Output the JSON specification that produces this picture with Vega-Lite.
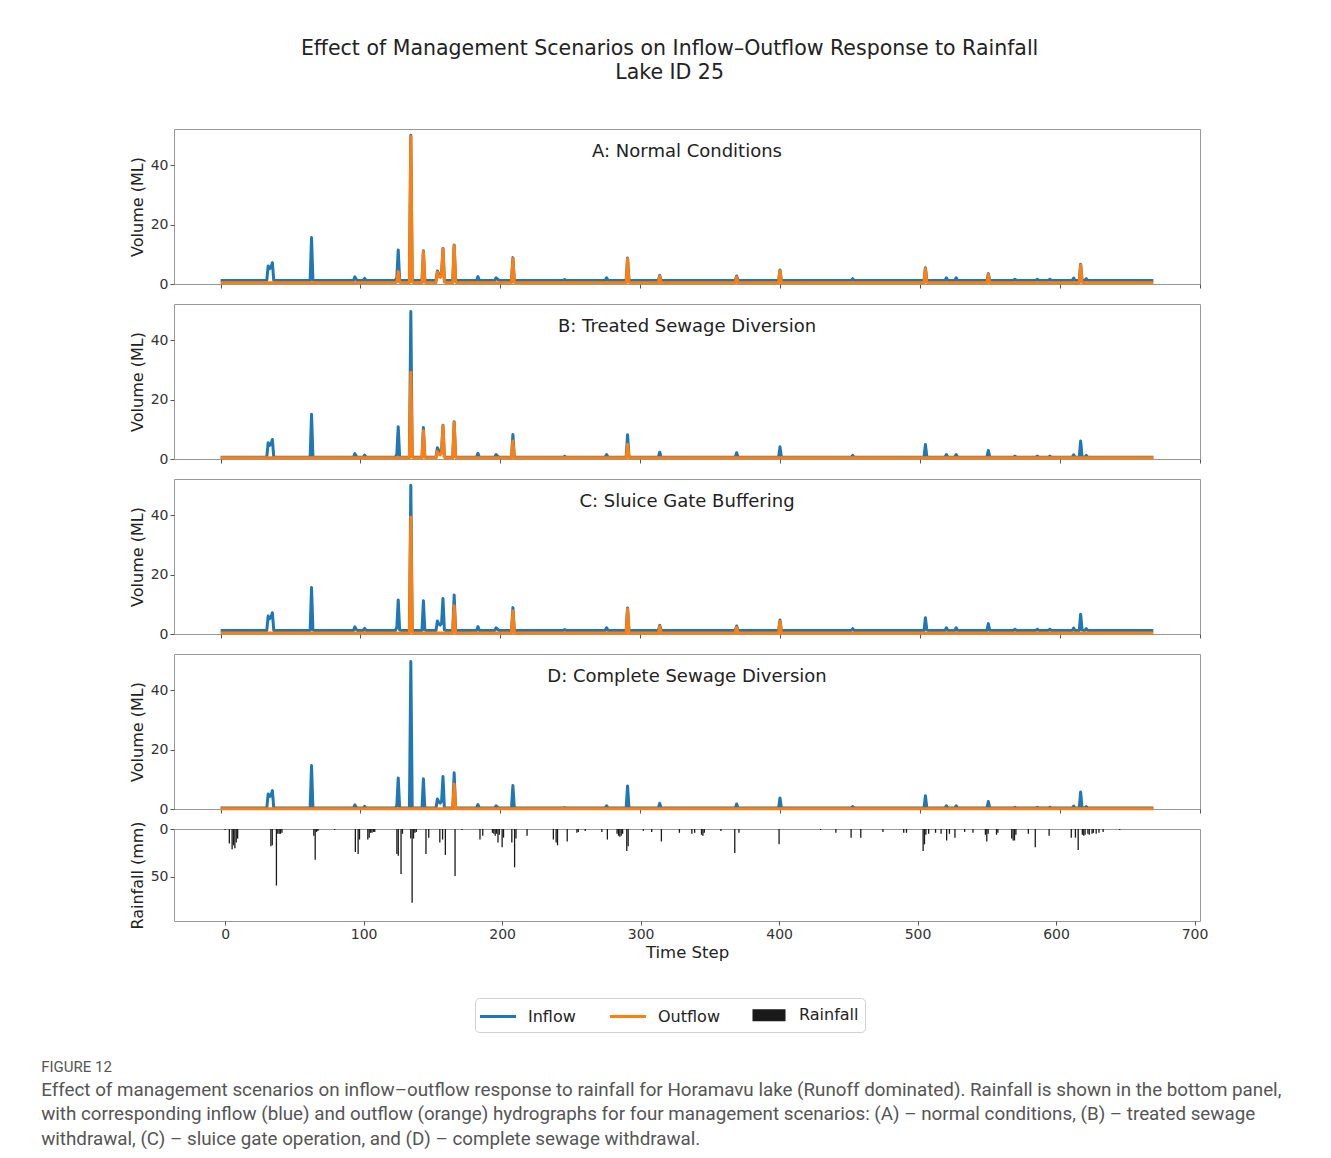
{
  "$schema": "https://vega.github.io/schema/vega-lite/v6.json",
  "background": "white",
  "padding": {"left": 40, "top": 38, "right": 5, "bottom": 5},
  "bounds": "flush",
  "title": {
    "text": ["Effect of Management Scenarios on Inflow–Outflow Response to Rainfall", "Lake ID 25"],
    "anchor": "middle", "font": "DejaVu Sans", "fontSize": 20.5, "fontWeight": "normal",
    "lineHeight": 24.5, "color": "#222", "offset": 45, "dx": 6
  },
  "spacing": 20,
  "resolve": {"scale": {"color": "independent"}, "legend": {"color": "independent"}},
  "datasets": {
    "hydro": [
      {"t":0,"Ai":1.2,"Ao":0.4,"Bi":0.6,"Bo":0.4,"Ci":1.2,"Co":0.3,"Di":0.3,"Do":0.05},
      {"t":33,"Ai":1.2,"Ao":0.4,"Bi":0.6,"Bo":0.4,"Ci":1.2,"Co":0.3,"Di":0.3,"Do":0.05},
      {"t":34,"Ai":6.1,"Ao":0.4,"Bi":5.5,"Bo":0.4,"Ci":6.1,"Co":0.3,"Di":5.1,"Do":0.05},
      {"t":35,"Ai":5.2,"Ao":0.4,"Bi":4.6,"Bo":0.4,"Ci":5.2,"Co":0.3,"Di":4.2,"Do":0.05},
      {"t":36,"Ai":5.6,"Ao":0.4,"Bi":5.0,"Bo":0.4,"Ci":5.6,"Co":0.3,"Di":4.6,"Do":0.05},
      {"t":37,"Ai":7.2,"Ao":0.4,"Bi":6.6,"Bo":0.4,"Ci":7.2,"Co":0.3,"Di":6.2,"Do":0.05},
      {"t":38,"Ai":1.2,"Ao":0.4,"Bi":0.6,"Bo":0.4,"Ci":1.2,"Co":0.3,"Di":0.3,"Do":0.05},
      {"t":64,"Ai":1.2,"Ao":0.4,"Bi":0.6,"Bo":0.4,"Ci":1.2,"Co":0.3,"Di":0.3,"Do":0.05},
      {"t":65,"Ai":15.7,"Ao":0.4,"Bi":15.1,"Bo":0.4,"Ci":15.7,"Co":0.3,"Di":14.7,"Do":0.05},
      {"t":66,"Ai":1.4,"Ao":0.4,"Bi":0.8,"Bo":0.4,"Ci":1.4,"Co":0.3,"Di":0.4,"Do":0.05},
      {"t":67,"Ai":1.2,"Ao":0.4,"Bi":0.6,"Bo":0.4,"Ci":1.2,"Co":0.3,"Di":0.3,"Do":0.05},
      {"t":95,"Ai":1.2,"Ao":0.4,"Bi":0.6,"Bo":0.4,"Ci":1.2,"Co":0.3,"Di":0.3,"Do":0.05},
      {"t":96,"Ai":2.4,"Ao":0.4,"Bi":1.8,"Bo":0.4,"Ci":2.4,"Co":0.3,"Di":1.4,"Do":0.05},
      {"t":97,"Ai":1.5,"Ao":0.4,"Bi":0.9,"Bo":0.4,"Ci":1.5,"Co":0.3,"Di":0.5,"Do":0.05},
      {"t":98,"Ai":1.2,"Ao":0.4,"Bi":0.6,"Bo":0.4,"Ci":1.2,"Co":0.3,"Di":0.3,"Do":0.05},
      {"t":102,"Ai":1.2,"Ao":0.4,"Bi":0.6,"Bo":0.4,"Ci":1.2,"Co":0.3,"Di":0.3,"Do":0.05},
      {"t":103,"Ai":1.9,"Ao":0.4,"Bi":1.3,"Bo":0.4,"Ci":1.9,"Co":0.3,"Di":0.9,"Do":0.05},
      {"t":104,"Ai":1.2,"Ao":0.4,"Bi":0.6,"Bo":0.4,"Ci":1.2,"Co":0.3,"Di":0.3,"Do":0.05},
      {"t":125,"Ai":1.2,"Ao":0.4,"Bi":0.6,"Bo":0.4,"Ci":1.2,"Co":0.3,"Di":0.3,"Do":0.05},
      {"t":126,"Ai":2.2,"Ao":0.8,"Bi":1.6,"Bo":0.4,"Ci":2.2,"Co":0.3,"Di":1.2,"Do":0.05},
      {"t":127,"Ai":11.5,"Ao":4.2,"Bi":10.9,"Bo":0.4,"Ci":11.5,"Co":0.3,"Di":10.5,"Do":0.05},
      {"t":128,"Ai":1.4,"Ao":0.6,"Bi":0.8,"Bo":0.4,"Ci":1.4,"Co":0.3,"Di":0.4,"Do":0.05},
      {"t":129,"Ai":1.2,"Ao":0.4,"Bi":0.6,"Bo":0.4,"Ci":1.2,"Co":0.3,"Di":0.3,"Do":0.05},
      {"t":135,"Ai":1.2,"Ao":0.4,"Bi":0.6,"Bo":0.4,"Ci":1.2,"Co":0.3,"Di":0.3,"Do":0.05},
      {"t":136,"Ai":50.2,"Ao":49.8,"Bi":49.8,"Bo":29.3,"Ci":50.2,"Co":39.4,"Di":49.8,"Do":0.05},
      {"t":137,"Ai":1.6,"Ao":0.8,"Bi":1.0,"Bo":0.7,"Ci":1.6,"Co":0.6,"Di":0.6,"Do":0.05},
      {"t":138,"Ai":1.2,"Ao":0.4,"Bi":0.6,"Bo":0.4,"Ci":1.2,"Co":0.3,"Di":0.3,"Do":0.05},
      {"t":144,"Ai":1.2,"Ao":0.4,"Bi":0.6,"Bo":0.4,"Ci":1.2,"Co":0.3,"Di":0.3,"Do":0.05},
      {"t":145,"Ai":11.2,"Ao":11.0,"Bi":10.6,"Bo":9.5,"Ci":11.2,"Co":0.3,"Di":10.2,"Do":0.05},
      {"t":146,"Ai":1.5,"Ao":0.7,"Bi":0.9,"Bo":0.6,"Ci":1.5,"Co":0.3,"Di":0.5,"Do":0.05},
      {"t":147,"Ai":1.2,"Ao":0.4,"Bi":0.6,"Bo":0.4,"Ci":1.2,"Co":0.3,"Di":0.3,"Do":0.05},
      {"t":154,"Ai":1.2,"Ao":0.4,"Bi":0.6,"Bo":0.4,"Ci":1.2,"Co":0.3,"Di":0.3,"Do":0.05},
      {"t":155,"Ai":4.4,"Ao":4.0,"Bi":3.8,"Bo":2.5,"Ci":4.4,"Co":0.3,"Di":3.4,"Do":0.05},
      {"t":156,"Ai":3.4,"Ao":2.6,"Bi":2.8,"Bo":1.6,"Ci":3.4,"Co":0.3,"Di":2.4,"Do":0.05},
      {"t":157,"Ai":3.0,"Ao":2.2,"Bi":2.4,"Bo":1.4,"Ci":3.0,"Co":0.3,"Di":2.0,"Do":0.05},
      {"t":158,"Ai":3.6,"Ao":3.0,"Bi":3.0,"Bo":2.0,"Ci":3.6,"Co":0.3,"Di":2.6,"Do":0.05},
      {"t":159,"Ai":12.0,"Ao":11.8,"Bi":11.4,"Bo":11.2,"Ci":12.0,"Co":0.3,"Di":11.0,"Do":0.05},
      {"t":160,"Ai":1.4,"Ao":0.7,"Bi":0.8,"Bo":0.6,"Ci":1.4,"Co":0.3,"Di":0.4,"Do":0.05},
      {"t":161,"Ai":1.2,"Ao":0.4,"Bi":0.6,"Bo":0.4,"Ci":1.2,"Co":0.3,"Di":0.3,"Do":0.05},
      {"t":166,"Ai":1.2,"Ao":0.4,"Bi":0.6,"Bo":0.4,"Ci":1.2,"Co":0.3,"Di":0.3,"Do":0.05},
      {"t":167,"Ai":13.2,"Ao":13.0,"Bi":12.6,"Bo":12.3,"Ci":13.2,"Co":9.5,"Di":12.2,"Do":8.4},
      {"t":168,"Ai":1.6,"Ao":0.8,"Bi":1.0,"Bo":0.7,"Ci":1.6,"Co":0.5,"Di":0.6,"Do":0.3},
      {"t":169,"Ai":1.2,"Ao":0.4,"Bi":0.6,"Bo":0.4,"Ci":1.2,"Co":0.3,"Di":0.3,"Do":0.05},
      {"t":183,"Ai":1.2,"Ao":0.4,"Bi":0.6,"Bo":0.4,"Ci":1.2,"Co":0.3,"Di":0.3,"Do":0.05},
      {"t":184,"Ai":2.5,"Ao":0.4,"Bi":1.9,"Bo":0.4,"Ci":2.5,"Co":0.3,"Di":1.5,"Do":0.05},
      {"t":185,"Ai":1.2,"Ao":0.4,"Bi":0.6,"Bo":0.4,"Ci":1.2,"Co":0.3,"Di":0.3,"Do":0.05},
      {"t":196,"Ai":1.2,"Ao":0.4,"Bi":0.6,"Bo":0.4,"Ci":1.2,"Co":0.3,"Di":0.3,"Do":0.05},
      {"t":197,"Ai":2.1,"Ao":0.4,"Bi":1.5,"Bo":0.4,"Ci":2.1,"Co":0.3,"Di":1.1,"Do":0.05},
      {"t":198,"Ai":1.6,"Ao":0.4,"Bi":1.0,"Bo":0.4,"Ci":1.6,"Co":0.3,"Di":0.6,"Do":0.05},
      {"t":199,"Ai":1.2,"Ao":0.4,"Bi":0.6,"Bo":0.4,"Ci":1.2,"Co":0.3,"Di":0.3,"Do":0.05},
      {"t":208,"Ai":1.2,"Ao":0.4,"Bi":0.6,"Bo":0.4,"Ci":1.2,"Co":0.3,"Di":0.3,"Do":0.05},
      {"t":209,"Ai":8.9,"Ao":8.6,"Bi":8.3,"Bo":6.1,"Ci":8.9,"Co":7.8,"Di":7.9,"Do":0.05},
      {"t":210,"Ai":1.4,"Ao":0.6,"Bi":0.8,"Bo":0.5,"Ci":1.4,"Co":0.5,"Di":0.4,"Do":0.05},
      {"t":211,"Ai":1.2,"Ao":0.4,"Bi":0.6,"Bo":0.4,"Ci":1.2,"Co":0.3,"Di":0.3,"Do":0.05},
      {"t":245,"Ai":1.2,"Ao":0.4,"Bi":0.6,"Bo":0.4,"Ci":1.2,"Co":0.3,"Di":0.3,"Do":0.05},
      {"t":246,"Ai":1.5,"Ao":0.4,"Bi":0.9,"Bo":0.4,"Ci":1.5,"Co":0.3,"Di":0.5,"Do":0.05},
      {"t":247,"Ai":1.2,"Ao":0.4,"Bi":0.6,"Bo":0.4,"Ci":1.2,"Co":0.3,"Di":0.3,"Do":0.05},
      {"t":275,"Ai":1.2,"Ao":0.4,"Bi":0.6,"Bo":0.4,"Ci":1.2,"Co":0.3,"Di":0.3,"Do":0.05},
      {"t":276,"Ai":2.1,"Ao":0.4,"Bi":1.5,"Bo":0.4,"Ci":2.1,"Co":0.3,"Di":1.1,"Do":0.05},
      {"t":277,"Ai":1.2,"Ao":0.4,"Bi":0.6,"Bo":0.4,"Ci":1.2,"Co":0.3,"Di":0.3,"Do":0.05},
      {"t":290,"Ai":1.2,"Ao":0.4,"Bi":0.6,"Bo":0.4,"Ci":1.2,"Co":0.3,"Di":0.3,"Do":0.05},
      {"t":291,"Ai":8.8,"Ao":8.5,"Bi":8.2,"Bo":5.0,"Ci":8.8,"Co":8.4,"Di":7.8,"Do":0.05},
      {"t":292,"Ai":1.4,"Ao":0.6,"Bi":0.8,"Bo":0.5,"Ci":1.4,"Co":0.5,"Di":0.4,"Do":0.05},
      {"t":293,"Ai":1.2,"Ao":0.4,"Bi":0.6,"Bo":0.4,"Ci":1.2,"Co":0.3,"Di":0.3,"Do":0.05},
      {"t":313,"Ai":1.2,"Ao":0.4,"Bi":0.6,"Bo":0.4,"Ci":1.2,"Co":0.3,"Di":0.3,"Do":0.05},
      {"t":314,"Ai":2.9,"Ao":2.6,"Bi":2.3,"Bo":0.4,"Ci":2.9,"Co":2.5,"Di":1.9,"Do":0.05},
      {"t":315,"Ai":1.2,"Ao":0.4,"Bi":0.6,"Bo":0.4,"Ci":1.2,"Co":0.3,"Di":0.3,"Do":0.05},
      {"t":368,"Ai":1.2,"Ao":0.4,"Bi":0.6,"Bo":0.4,"Ci":1.2,"Co":0.3,"Di":0.3,"Do":0.05},
      {"t":369,"Ai":2.7,"Ao":2.4,"Bi":2.1,"Bo":0.4,"Ci":2.7,"Co":2.3,"Di":1.7,"Do":0.05},
      {"t":370,"Ai":1.2,"Ao":0.4,"Bi":0.6,"Bo":0.4,"Ci":1.2,"Co":0.3,"Di":0.3,"Do":0.05},
      {"t":399,"Ai":1.2,"Ao":0.4,"Bi":0.6,"Bo":0.4,"Ci":1.2,"Co":0.3,"Di":0.3,"Do":0.05},
      {"t":400,"Ai":4.7,"Ao":4.5,"Bi":4.1,"Bo":0.4,"Ci":4.7,"Co":4.3,"Di":3.7,"Do":0.05},
      {"t":401,"Ai":1.2,"Ao":0.4,"Bi":0.6,"Bo":0.4,"Ci":1.2,"Co":0.3,"Di":0.3,"Do":0.05},
      {"t":451,"Ai":1.2,"Ao":0.4,"Bi":0.6,"Bo":0.4,"Ci":1.2,"Co":0.3,"Di":0.3,"Do":0.05},
      {"t":452,"Ai":1.8,"Ao":0.4,"Bi":1.2,"Bo":0.4,"Ci":1.8,"Co":0.3,"Di":0.8,"Do":0.05},
      {"t":453,"Ai":1.2,"Ao":0.4,"Bi":0.6,"Bo":0.4,"Ci":1.2,"Co":0.3,"Di":0.3,"Do":0.05},
      {"t":503,"Ai":1.2,"Ao":0.4,"Bi":0.6,"Bo":0.4,"Ci":1.2,"Co":0.3,"Di":0.3,"Do":0.05},
      {"t":504,"Ai":5.5,"Ao":5.2,"Bi":4.9,"Bo":0.4,"Ci":5.5,"Co":0.3,"Di":4.5,"Do":0.05},
      {"t":505,"Ai":1.4,"Ao":0.6,"Bi":0.8,"Bo":0.4,"Ci":1.4,"Co":0.3,"Di":0.4,"Do":0.05},
      {"t":506,"Ai":1.2,"Ao":0.4,"Bi":0.6,"Bo":0.4,"Ci":1.2,"Co":0.3,"Di":0.3,"Do":0.05},
      {"t":518,"Ai":1.2,"Ao":0.4,"Bi":0.6,"Bo":0.4,"Ci":1.2,"Co":0.3,"Di":0.3,"Do":0.05},
      {"t":519,"Ai":2.1,"Ao":0.4,"Bi":1.5,"Bo":0.4,"Ci":2.1,"Co":0.3,"Di":1.1,"Do":0.05},
      {"t":520,"Ai":1.2,"Ao":0.4,"Bi":0.6,"Bo":0.4,"Ci":1.2,"Co":0.3,"Di":0.3,"Do":0.05},
      {"t":525,"Ai":1.2,"Ao":0.4,"Bi":0.6,"Bo":0.4,"Ci":1.2,"Co":0.3,"Di":0.3,"Do":0.05},
      {"t":526,"Ai":2.1,"Ao":0.4,"Bi":1.5,"Bo":0.4,"Ci":2.1,"Co":0.3,"Di":1.1,"Do":0.05},
      {"t":527,"Ai":1.2,"Ao":0.4,"Bi":0.6,"Bo":0.4,"Ci":1.2,"Co":0.3,"Di":0.3,"Do":0.05},
      {"t":548,"Ai":1.2,"Ao":0.4,"Bi":0.6,"Bo":0.4,"Ci":1.2,"Co":0.3,"Di":0.3,"Do":0.05},
      {"t":549,"Ai":3.5,"Ao":3.2,"Bi":2.9,"Bo":0.4,"Ci":3.5,"Co":0.3,"Di":2.5,"Do":0.05},
      {"t":550,"Ai":1.2,"Ao":0.4,"Bi":0.6,"Bo":0.4,"Ci":1.2,"Co":0.3,"Di":0.3,"Do":0.05},
      {"t":567,"Ai":1.2,"Ao":0.4,"Bi":0.6,"Bo":0.4,"Ci":1.2,"Co":0.3,"Di":0.3,"Do":0.05},
      {"t":568,"Ai":1.6,"Ao":0.4,"Bi":1.0,"Bo":0.4,"Ci":1.6,"Co":0.3,"Di":0.6,"Do":0.05},
      {"t":569,"Ai":1.2,"Ao":0.4,"Bi":0.6,"Bo":0.4,"Ci":1.2,"Co":0.3,"Di":0.3,"Do":0.05},
      {"t":583,"Ai":1.2,"Ao":0.4,"Bi":0.6,"Bo":0.4,"Ci":1.2,"Co":0.3,"Di":0.3,"Do":0.05},
      {"t":584,"Ai":1.6,"Ao":0.4,"Bi":1.0,"Bo":0.4,"Ci":1.6,"Co":0.3,"Di":0.6,"Do":0.05},
      {"t":585,"Ai":1.2,"Ao":0.4,"Bi":0.6,"Bo":0.4,"Ci":1.2,"Co":0.3,"Di":0.3,"Do":0.05},
      {"t":592,"Ai":1.2,"Ao":0.4,"Bi":0.6,"Bo":0.4,"Ci":1.2,"Co":0.3,"Di":0.3,"Do":0.05},
      {"t":593,"Ai":1.6,"Ao":0.4,"Bi":1.0,"Bo":0.4,"Ci":1.6,"Co":0.3,"Di":0.6,"Do":0.05},
      {"t":594,"Ai":1.2,"Ao":0.4,"Bi":0.6,"Bo":0.4,"Ci":1.2,"Co":0.3,"Di":0.3,"Do":0.05},
      {"t":609,"Ai":1.2,"Ao":0.4,"Bi":0.6,"Bo":0.4,"Ci":1.2,"Co":0.3,"Di":0.3,"Do":0.05},
      {"t":610,"Ai":2.0,"Ao":0.4,"Bi":1.4,"Bo":0.4,"Ci":2.0,"Co":0.3,"Di":1.0,"Do":0.05},
      {"t":611,"Ai":1.2,"Ao":0.4,"Bi":0.6,"Bo":0.4,"Ci":1.2,"Co":0.3,"Di":0.3,"Do":0.05},
      {"t":614,"Ai":1.2,"Ao":0.4,"Bi":0.6,"Bo":0.4,"Ci":1.2,"Co":0.3,"Di":0.3,"Do":0.05},
      {"t":615,"Ai":6.7,"Ao":6.4,"Bi":6.1,"Bo":0.4,"Ci":6.7,"Co":0.3,"Di":5.7,"Do":0.05},
      {"t":616,"Ai":1.4,"Ao":0.6,"Bi":0.8,"Bo":0.4,"Ci":1.4,"Co":0.3,"Di":0.4,"Do":0.05},
      {"t":617,"Ai":1.2,"Ao":0.4,"Bi":0.6,"Bo":0.4,"Ci":1.2,"Co":0.3,"Di":0.3,"Do":0.05},
      {"t":618,"Ai":1.2,"Ao":0.4,"Bi":0.6,"Bo":0.4,"Ci":1.2,"Co":0.3,"Di":0.3,"Do":0.05},
      {"t":619,"Ai":1.8,"Ao":0.4,"Bi":1.2,"Bo":0.4,"Ci":1.8,"Co":0.3,"Di":0.8,"Do":0.05},
      {"t":620,"Ai":1.2,"Ao":0.4,"Bi":0.6,"Bo":0.4,"Ci":1.2,"Co":0.3,"Di":0.3,"Do":0.05},
      {"t":667,"Ai":1.2,"Ao":0.4,"Bi":0.6,"Bo":0.4,"Ci":1.2,"Co":0.3,"Di":0.3,"Do":0.05}
    ],
    "rain": [
      {"t":0,"Rainfall":1},{"t":3,"Rainfall":15},{"t":5,"Rainfall":21},{"t":6,"Rainfall":17},{"t":7,"Rainfall":20},{"t":8,"Rainfall":14},{"t":9,"Rainfall":10},
      {"t":33,"Rainfall":18},{"t":34,"Rainfall":17},{"t":37,"Rainfall":59},{"t":38,"Rainfall":5},{"t":39,"Rainfall":5},{"t":40,"Rainfall":5},{"t":41,"Rainfall":4},
      {"t":64,"Rainfall":7},{"t":65,"Rainfall":32},{"t":66,"Rainfall":3},{"t":67,"Rainfall":2},{"t":79,"Rainfall":1},
      {"t":94,"Rainfall":24},{"t":96,"Rainfall":26},{"t":97,"Rainfall":11},
      {"t":103,"Rainfall":11},{"t":104,"Rainfall":9},{"t":105,"Rainfall":4},{"t":106,"Rainfall":4},{"t":107,"Rainfall":3},{"t":108,"Rainfall":3},
      {"t":124,"Rainfall":26},{"t":125,"Rainfall":28},{"t":127,"Rainfall":47},{"t":128,"Rainfall":5},
      {"t":134,"Rainfall":10},{"t":135,"Rainfall":77},{"t":136,"Rainfall":10},{"t":137,"Rainfall":4},{"t":138,"Rainfall":3},
      {"t":145,"Rainfall":26},{"t":147,"Rainfall":9},{"t":155,"Rainfall":14},{"t":157,"Rainfall":11},{"t":159,"Rainfall":27},{"t":166,"Rainfall":49},{"t":171,"Rainfall":1},
      {"t":184,"Rainfall":11},{"t":186,"Rainfall":7},
      {"t":193,"Rainfall":4},{"t":194,"Rainfall":5},{"t":195,"Rainfall":7},{"t":196,"Rainfall":5},{"t":197,"Rainfall":14},{"t":198,"Rainfall":6},{"t":200,"Rainfall":19},{"t":201,"Rainfall":9},
      {"t":207,"Rainfall":14},{"t":209,"Rainfall":40},{"t":210,"Rainfall":10},{"t":218,"Rainfall":7},
      {"t":237,"Rainfall":11},{"t":239,"Rainfall":14},{"t":240,"Rainfall":17},{"t":247,"Rainfall":13},
      {"t":254,"Rainfall":4},{"t":255,"Rainfall":3},{"t":260,"Rainfall":2},{"t":272,"Rainfall":3},{"t":276,"Rainfall":11},
      {"t":283,"Rainfall":5},{"t":284,"Rainfall":7},{"t":285,"Rainfall":8},{"t":286,"Rainfall":7},{"t":287,"Rainfall":5},{"t":290,"Rainfall":23},{"t":291,"Rainfall":18},
      {"t":302,"Rainfall":2},{"t":308,"Rainfall":3},{"t":315,"Rainfall":13},{"t":328,"Rainfall":4},
      {"t":337,"Rainfall":5},{"t":339,"Rainfall":4},{"t":344,"Rainfall":6},{"t":345,"Rainfall":7},{"t":346,"Rainfall":4},{"t":358,"Rainfall":2},{"t":368,"Rainfall":25},{"t":371,"Rainfall":4},
      {"t":400,"Rainfall":16},{"t":430,"Rainfall":1},{"t":441,"Rainfall":4},{"t":452,"Rainfall":9},{"t":459,"Rainfall":9},
      {"t":475,"Rainfall":3},{"t":490,"Rainfall":4},{"t":492,"Rainfall":4},
      {"t":504,"Rainfall":23},{"t":505,"Rainfall":16},{"t":506,"Rainfall":6},{"t":508,"Rainfall":5},{"t":513,"Rainfall":4},{"t":517,"Rainfall":5},{"t":521,"Rainfall":12},{"t":523,"Rainfall":5},{"t":527,"Rainfall":9},
      {"t":534,"Rainfall":3},{"t":540,"Rainfall":4},{"t":549,"Rainfall":6},{"t":550,"Rainfall":13},{"t":551,"Rainfall":5},{"t":557,"Rainfall":6},{"t":558,"Rainfall":4},
      {"t":568,"Rainfall":10},{"t":569,"Rainfall":12},{"t":570,"Rainfall":12},{"t":571,"Rainfall":6},
      {"t":580,"Rainfall":5},{"t":585,"Rainfall":19},{"t":595,"Rainfall":7},
      {"t":611,"Rainfall":9},{"t":614,"Rainfall":9},{"t":616,"Rainfall":22},{"t":619,"Rainfall":6},{"t":620,"Rainfall":7},{"t":621,"Rainfall":6},{"t":623,"Rainfall":5},{"t":624,"Rainfall":6},{"t":626,"Rainfall":5},{"t":627,"Rainfall":4},{"t":629,"Rainfall":5},{"t":631,"Rainfall":4},{"t":634,"Rainfall":3},
      {"t":646,"Rainfall":1}
    ]
  },
  "vconcat": [
    {
      "width": 1026, "height": 155,
      "title": {"text": "A: Normal Conditions", "offset": -32, "anchor": "middle", "font": "DejaVu Sans", "fontSize": 18, "fontWeight": "normal", "color": "#222"},
      "data": {"name": "hydro"},
      "transform": [{"fold": ["Ai", "Ao"], "as": ["k", "v"]}],
      "mark": {"type": "line", "strokeWidth": 3, "strokeJoin": "round"},
      "encoding": {
        "x": {"field": "t", "type": "quantitative", "scale": {"domain": [-33.35, 700.35], "nice": false, "zero": false}, "axis": {"values": [0,100,200,300,400,500,600,700], "labels": false, "title": null}},
        "y": {"field": "v", "type": "quantitative", "scale": {"domain": [0, 52.3], "nice": false}, "axis": {"values": [0, 20, 40], "title": "Volume (ML)"}},
        "color": {"field": "k", "type": "nominal", "scale": {"domain": ["Ai", "Ao"], "range": ["#1f77b4", "#ff7f0e"]}, "legend": null}
      }
    },
    {
      "width": 1026, "height": 155,
      "title": {"text": "B: Treated Sewage Diversion", "offset": -32, "anchor": "middle", "font": "DejaVu Sans", "fontSize": 18, "fontWeight": "normal", "color": "#222"},
      "data": {"name": "hydro"},
      "transform": [{"fold": ["Bi", "Bo"], "as": ["k", "v"]}],
      "mark": {"type": "line", "strokeWidth": 3, "strokeJoin": "round"},
      "encoding": {
        "x": {"field": "t", "type": "quantitative", "scale": {"domain": [-33.35, 700.35], "nice": false, "zero": false}, "axis": {"values": [0,100,200,300,400,500,600,700], "labels": false, "title": null}},
        "y": {"field": "v", "type": "quantitative", "scale": {"domain": [0, 52.3], "nice": false}, "axis": {"values": [0, 20, 40], "title": "Volume (ML)"}},
        "color": {"field": "k", "type": "nominal", "scale": {"domain": ["Bi", "Bo"], "range": ["#1f77b4", "#ff7f0e"]}, "legend": null}
      }
    },
    {
      "width": 1026, "height": 155,
      "title": {"text": "C: Sluice Gate Buffering", "offset": -32, "anchor": "middle", "font": "DejaVu Sans", "fontSize": 18, "fontWeight": "normal", "color": "#222"},
      "data": {"name": "hydro"},
      "transform": [{"fold": ["Ci", "Co"], "as": ["k", "v"]}],
      "mark": {"type": "line", "strokeWidth": 3, "strokeJoin": "round"},
      "encoding": {
        "x": {"field": "t", "type": "quantitative", "scale": {"domain": [-33.35, 700.35], "nice": false, "zero": false}, "axis": {"values": [0,100,200,300,400,500,600,700], "labels": false, "title": null}},
        "y": {"field": "v", "type": "quantitative", "scale": {"domain": [0, 52.3], "nice": false}, "axis": {"values": [0, 20, 40], "title": "Volume (ML)"}},
        "color": {"field": "k", "type": "nominal", "scale": {"domain": ["Ci", "Co"], "range": ["#1f77b4", "#ff7f0e"]}, "legend": null}
      }
    },
    {
      "width": 1026, "height": 155,
      "title": {"text": "D: Complete Sewage Diversion", "offset": -32, "anchor": "middle", "font": "DejaVu Sans", "fontSize": 18, "fontWeight": "normal", "color": "#222"},
      "data": {"name": "hydro"},
      "transform": [{"fold": ["Di", "Do"], "as": ["k", "v"]}],
      "mark": {"type": "line", "strokeWidth": 3, "strokeJoin": "round"},
      "encoding": {
        "x": {"field": "t", "type": "quantitative", "scale": {"domain": [-33.35, 700.35], "nice": false, "zero": false}, "axis": {"values": [0,100,200,300,400,500,600,700], "labels": false, "title": null}},
        "y": {"field": "v", "type": "quantitative", "scale": {"domain": [0, 52.3], "nice": false}, "axis": {"values": [0, 20, 40], "title": "Volume (ML)"}},
        "color": {"field": "k", "type": "nominal", "scale": {"domain": ["Di", "Do"], "range": ["#1f77b4", "#ff7f0e"]}, "legend": null}
      }
    },
    {
      "width": 1026, "height": 92,
      "title": {
        "text": "FIGURE 12",
        "subtitle": [
          "Effect of management scenarios on inflow–outflow response to rainfall for  Horamavu lake (Runoff dominated). Rainfall is shown in the bottom panel,",
          "with corresponding inflow (blue) and outflow (orange) hydrographs for four management scenarios: (A) – normal conditions, (B) – treated sewage",
          "withdrawal, (C) – sluice gate operation, and (D) – complete sewage withdrawal."
        ],
        "orient": "bottom", "anchor": "start", "dx": -88, "offset": 27,
        "font": "Roboto", "fontSize": 15, "fontWeight": "normal", "color": "#555",
        "subtitleFont": "Roboto", "subtitleFontSize": 18.8, "subtitleColor": "#555", "subtitleLineHeight": 24.5, "subtitlePadding": 6
      },
      "data": {"name": "rain"},
      "transform": [{"fold": ["Rainfall"], "as": ["s", "r"]}],
      "mark": {"type": "bar", "width": 1.3},
      "encoding": {
        "x": {"field": "t", "type": "quantitative", "scale": {"domain": [-33.35, 700.35], "nice": false, "zero": false}, "axis": {"values": [0,100,200,300,400,500,600,700], "title": "Time Step", "titlePadding": 3, "titleFontSize": 16.5}},
        "y": {"field": "r", "type": "quantitative", "scale": {"domain": [0, 96], "nice": false, "reverse": true}, "axis": {"values": [0, 50], "title": "Rainfall (mm)"}},
        "color": {
          "field": "s", "type": "nominal",
          "scale": {"domain": ["Inflow", "Outflow", "Rainfall"], "range": ["#1f77b4", "#ff7f0e", "#1a1a1a"]},
          "legend": {
            "title": null, "orient": "none", "legendX": 301, "legendY": 169, "direction": "horizontal",
            "labelFont": "DejaVu Sans", "labelFontSize": 16, "labelColor": "#222",
            "symbolSize": 361, "symbolStrokeWidth": 3, "symbolOffset": 6, "labelOffset": 19, "columnPadding": 27, "padding": 6,
            "strokeColor": "#d0d0d0", "fillColor": "white", "cornerRadius": 4,
            "encoding": {
              "symbols": {
                "shape": {"condition": {"test": "datum.value === 'Rainfall'", "value": "M-1.58,-0.47H1.58V0.47H-1.58Z"}, "value": "M-1.9,0H1.9"},
                "stroke": {"condition": [{"test": "datum.value === 'Inflow'", "value": "#1f77b4"}, {"test": "datum.value === 'Outflow'", "value": "#ff7f0e"}], "value": "#1a1a1a"}
              }
            }
          }
        }
      }
    }
  ],
  "config": {
    "view": {"stroke": "#999", "strokeWidth": 1},
    "axis": {
      "labelFont": "DejaVu Sans", "titleFont": "DejaVu Sans", "labelFontSize": 14, "titleFontSize": 16,
      "labelColor": "#333", "titleColor": "#222", "titleFontWeight": "normal",
      "tickColor": "#555", "tickSize": 4, "domain": false, "grid": false, "labelPadding": 2
    },
    "axisY": {"titlePadding": 5}
  }
}
